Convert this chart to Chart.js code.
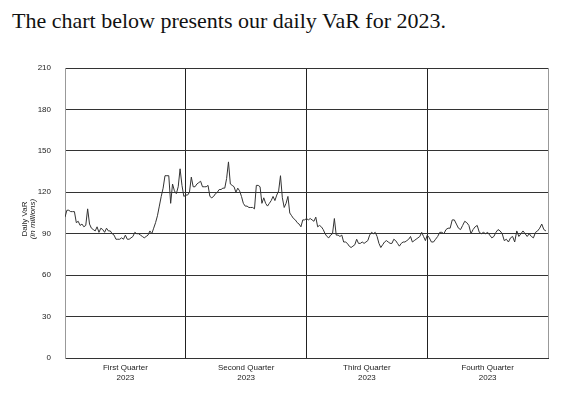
<!DOCTYPE html>
<html>
<head>
<meta charset="utf-8">
<script src="https://cdn.jsdelivr.net/npm/chart.js@4.4.0/dist/chart.umd.min.js"></script>
<style>
  body { margin: 0; background: #fff; }
  #title {
    position: absolute; left: 12px; top: 10px;
    font: 22px/22px "Liberation Serif", "DejaVu Serif", serif;
    color: #111; white-space: nowrap;
  }
  #myChart { position: absolute; left: 0; top: 0; }
</style>
</head>
<body>
<div id="title">The chart below presents our daily VaR for 2023.</div>
<canvas id="myChart" width="565" height="396"></canvas>
<script>
// daily VaR, one array per quarter (in millions)
const q1 = [102,107,107,106,106,106,98,99,96,97,95,96,108,97,94,93,92,95,91,94,93,91,94,92,92,90,89,86,86,86,87,86,89,86,86,87,88,91,90,90,89,88,87,88,89,92,90,94,98,103,110,117,123,132,132,132,112,126,121,119,124,137,125,117];
const q2 = [118,118,120,131,124,124,126,127,128,124,124,124,125,117,116,117,119,120,122,122,123,123,130,142,126,125,124,120,123,121,117,112,110,110,109,109,109,108,125,125,124,112,116,112,110,112,114,117,114,118,121,132,116,109,112,117,105,103,101,100,98,97,95,100,100];
const q3 = [101,100,101,100,99,102,95,96,95,93,90,88,87,89,90,101,89,89,88,89,84,84,83,81,80,81,82,86,83,83,84,83,84,85,89,91,90,91,88,83,80,82,84,85,84,83,83,86,85,83,81,83,84,84,85,86,88,84,85,86,87,88,91,88,85];
const q4 = [89,87,84,84,86,88,91,91,90,93,94,94,100,100,97,94,93,96,99,98,96,90,93,95,96,91,90,91,90,91,89,87,88,91,93,92,90,85,86,84,87,88,84,92,88,90,92,90,88,90,88,87,91,92,94,97,93,92];

const quarterLabels = [['First Quarter', '2023'], ['Second Quarter', '2023'], ['Third Quarter', '2023'], ['Fourth Quarter', '2023']];
const yTicks = [0, 30, 60, 90, 120, 150, 180, 210];

// spread each quarter's days over one unit of the x scale
const points = [];
[q1, q2, q3, q4].forEach(function (q, qi) {
  q.forEach(function (v, i) {
    points.push({ x: qi + i / q.length, y: v });
  });
});

const yTitle = {
  id: 'yTitle',
  afterDraw(chart) {
    const c = chart.ctx;
    const mid = (chart.chartArea.top + chart.chartArea.bottom) / 2 + 6;
    c.save();
    c.fillStyle = '#222';
    c.textAlign = 'center';
    c.textBaseline = 'middle';
    c.translate(25, mid);
    c.rotate(-Math.PI / 2);
    c.font = '8px "Liberation Sans", Arial, sans-serif';
    c.fillText('Daily VaR', 0, 0);
    c.font = 'italic 8px "Liberation Sans", Arial, sans-serif';
    c.fillText('(in millions)', 0, 8);
    c.restore();
  }
};

const ctx = document.getElementById('myChart');
const myChart = new Chart(ctx, {
  type: 'line',
  data: {
    datasets: [{
      data: points,
      borderColor: '#333',
      borderWidth: 1,
      pointRadius: 0,
      tension: 0
    }]
  },
  options: {
    responsive: false,
    animation: false,
    devicePixelRatio: 1,
    layout: { padding: { left: 0, right: 17, top: 68, bottom: 0 } },
    plugins: { legend: { display: false }, tooltip: { enabled: false } },
    scales: {
      x: {
        type: 'linear',
        min: 0,
        max: 4,
        afterBuildTicks: function (axis) {
          axis.ticks = [0.5, 1, 1.5, 2, 2.5, 3, 3.5, 4].map(v => ({ value: v }));
        },
        afterFit: function (axis) { axis.height = 38; },
        grid: {
          drawTicks: false,
          color: function (c) {
            if (!c.tick) return 'transparent';
            if (c.tick.value === 4) return '#999';
            return Number.isInteger(c.tick.value) ? '#222' : 'transparent';
          }
        },
        border: { color: '#333' },
        ticks: {
          autoSkip: false,
          maxRotation: 0,
          padding: 5,
          color: '#222',
          font: { family: '"Liberation Sans", Arial, sans-serif', size: 8 },
          callback: function (v) {
            return Number.isInteger(v) ? '' : quarterLabels[Math.floor(v)];
          }
        }
      },
      y: {
        min: 0,
        max: 210,
        afterBuildTicks: function (axis) {
          axis.ticks = yTicks.map(v => ({ value: v }));
        },
        afterFit: function (axis) { axis.width = 65; },
        grid: { drawTicks: false, color: '#333' },
        border: { color: '#999' },
        ticks: {
          padding: 14,
          color: '#222',
          font: { family: '"Liberation Sans", Arial, sans-serif', size: 8 }
        }
      }
    }
  },
  plugins: [yTitle]
});
</script>
</body>
</html>
